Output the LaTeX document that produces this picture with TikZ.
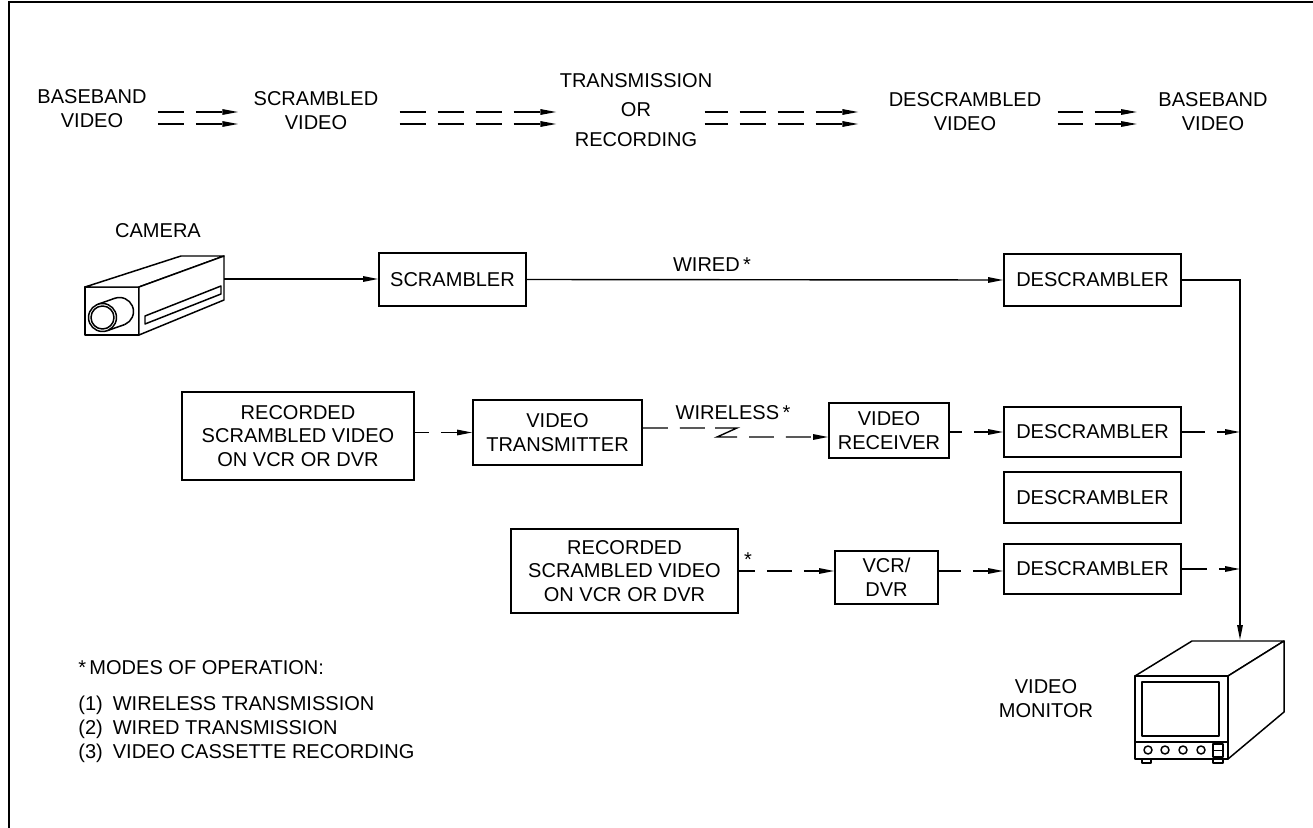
\documentclass[tikz,border=0pt]{standalone}
\usepackage{fontspec}
\setmainfont{Liberation Sans}
\usetikzlibrary{arrows.meta}

\tikzset{
  box/.style={draw, line width=1pt, align=center, inner sep=0pt},
  txt/.style={align=center, inner sep=0pt},
  sig/.style={line width=0.8pt, -{Triangle[length=0.3cm,width=0.11cm]}},
  sigdash/.style={sig, dash pattern=on 0.5cm off 0.24cm},
  twin/.style={line width=0.8pt, -{Triangle[length=0.32cm,width=0.11cm]}, dash pattern=on 0.52cm off 0.24cm},
  part/.style={line width=0.85pt, line join=round},
}

\begin{document}
\begin{tikzpicture}[x=0.02cm, y=-0.02cm, font=\fontsize{11.4}{13.6}\selectfont]
\useasboundingbox (0,0) rectangle (1313,828);
\draw[line width=0.8pt] (9,828) -- (9,2) -- (1313,2);

% signal chain, top row
\node[txt] (bbA) at (92,109) {BASEBAND\\VIDEO};
\node[txt] (scv) at (316,111) {SCRAMBLED\\VIDEO};
\node[txt, font=\fontsize{11.4}{17}\selectfont] (tor) at (636,110) {TRANSMISSION\\OR\\RECORDING};
\node[txt] (dsv) at (965,112) {DESCRAMBLED\\VIDEO};
\node[txt] (bbB) at (1213,112) {BASEBAND\\VIDEO};

\foreach \y in {112,124} {
  \draw[twin, dash phase=0.7cm, shorten <=0.16cm, shorten >=0.3cm] (bbA.east |- 0,\y) -- (scv.west |- 0,\y);
  \draw[twin, dash phase=0.72cm, shorten <=0.38cm, shorten >=0.06cm] (scv.east |- 0,\y) -- (tor.west |- 0,\y);
  \draw[twin, dash phase=0.06cm, shorten <=-0.16cm, shorten >=0.6cm] (tor.east |- 0,\y) -- (dsv.west |- 0,\y);
  \draw[twin, dash phase=0.02cm, shorten <=0.32cm, shorten >=0.42cm] (dsv.east |- 0,\y) -- (bbB.west |- 0,\y);
}

% camera
\node[txt] (camlbl) at (158,231) {CAMERA};
\draw[part, fill=white] (85,287) rectangle (139,335);
\draw[part, fill=white] (85,287) -- (181,256) -- (224,256) -- (139,287) -- cycle;
\draw[part, fill=white] (139,287) -- (224,256) -- (224,300) -- (139,335) -- cycle;
\draw[part] (145,316) -- (221,286) -- (221,294) -- (145,324) -- cycle;
% lens barrel
\draw[part, fill=white] (119.5,311.5) circle[radius=14];
\fill[white] (97.8,304.3) -- (114.8,298.3) -- (124.2,324.7) -- (107.2,330.7) -- cycle;
\draw[part] (97.8,304.3) -- (114.8,298.3);
\draw[part] (107.2,330.7) -- (124.2,324.7);
\draw[part, fill=white] (102.5,317.5) circle[radius=14];
\draw[part] (102.5,317.5) circle[radius=11.5];
\coordinate (cam) at (224,279);

% wired path
\node[box, minimum width=2.94cm, minimum height=1.06cm] (scr) at (452.5,279.5) {SCRAMBLER};
\node[box, minimum width=3.54cm, minimum height=1.04cm] (dscA) at (1092.5,280) {DESCRAMBLER};
\node[txt, anchor=south] (wired) at (712,272) {WIRED\,*};
\draw[sig] (cam) -- (cam -| scr.west);
\draw[sig] (scr.east) -- (dscA.west);

% bus to the monitor
\coordinate (bus) at (1240,280);
\coordinate (mon) at (1240,640);
\draw[sig] (dscA.east) -| (mon);

% wireless path
\node[box, minimum width=4.64cm, minimum height=1.76cm] (recA) at (298,436) {RECORDED\\SCRAMBLED VIDEO\\ON VCR OR DVR};
\node[box, minimum width=3.38cm, minimum height=1.3cm] (vtx) at (557.5,432.5) {VIDEO\\TRANSMITTER};
\node[box, minimum width=2.4cm, minimum height=1.1cm] (vrx) at (889,430.5) {VIDEO\\RECEIVER};
\node[box, minimum width=3.54cm, minimum height=1.0cm] (dscB) at (1092.5,432) {DESCRAMBLER};
\node[box, minimum width=3.54cm, minimum height=1.02cm] (dscC) at (1092.5,497.5) {DESCRAMBLER};
\node[txt] (wless) at (733,413) {WIRELESS\,*};

\coordinate (zA) at (715,428);
\coordinate (zB) at (737,428);
\coordinate (zC) at (717,437);
\coordinate (zD) at (737,437);
\draw[sigdash, dash phase=0.22cm] (recA.east |- vtx) -- (vtx.west);
\draw[line width=0.8pt, dash pattern=on 0.5cm off 0.24cm] ([yshift=0.09cm]vtx.east) -- (zA);
\draw[line width=0.8pt] (zA) -- (zB) -- (zC) -- (zD);
\draw[sigdash, dash phase=0.5cm] (zD) -- ([yshift=-0.13cm]vrx.west);
\draw[sigdash, dash phase=0.26cm] (vrx.east |- dscB) -- (dscB.west);
\draw[sigdash, dash phase=0.04cm] (dscB.east) -- (dscB.east -| bus);

% recorder path
\node[box, minimum width=4.54cm, minimum height=1.68cm] (recB) at (624.5,571) {RECORDED\\SCRAMBLED VIDEO\\ON VCR OR DVR};
\node[box, minimum width=2.06cm, minimum height=1.06cm] (vcr) at (886.5,577.5) {VCR/\\DVR};
\node[box, minimum width=3.54cm, minimum height=1.0cm] (dscD) at (1092.5,569) {DESCRAMBLER};
\node[txt] (star) at (748,560) {*};
\draw[sigdash, dash phase=0.18cm] (recB.east) -- (recB.east -| vcr.west);
\draw[sigdash, dash phase=0.06cm] (vcr.east |- recB.east) -- (dscD.west |- recB.east);
\draw[sigdash] (dscD.east) -- (dscD.east -| bus);

% monitor
\node[txt] (monlbl) at (1046,699) {VIDEO\\MONITOR};
\draw[part, fill=white] (1135,676) -- (1192,641) -- (1284,641) -- (1228,676) -- cycle;
\draw[part, fill=white] (1228,676) -- (1284,641) -- (1284,712) -- (1228,759) -- cycle;
\draw[part, fill=white] (1135,676) rectangle (1228,759);
\draw[part] (1142,682) rectangle (1219,736);
\draw[part] (1135,742) -- (1228,742);
\foreach \x in {1148,1165,1183,1201}
  \draw[part] (\x,750) circle[radius=4];
\draw[part] (1213,744) rectangle (1223,757);
\draw[part] (1213,750.5) -- (1223,750.5);
\draw[part] (1142,759) rectangle (1151,763);
\draw[part] (1213,759) rectangle (1223,763);

% notes
\node[txt, anchor=base west] (note) at (78,674) {*\,MODES OF OPERATION:};
\node[txt, anchor=base west, align=left] (modes) at (78,758)
  {(1)\enspace WIRELESS TRANSMISSION\\(2)\enspace WIRED TRANSMISSION\\(3)\enspace VIDEO CASSETTE RECORDING};
\end{tikzpicture}
\end{document}
